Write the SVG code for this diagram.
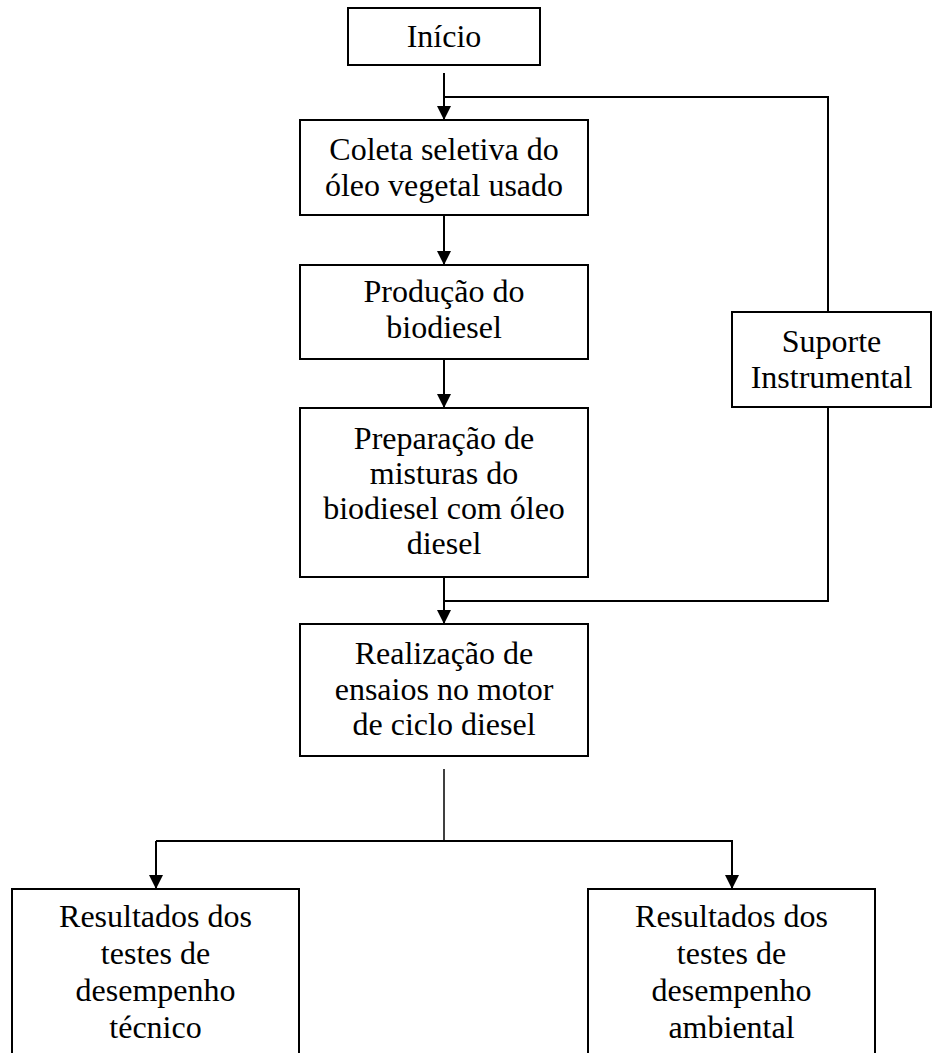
<svg xmlns="http://www.w3.org/2000/svg" width="934" height="1053" viewBox="0 0 934 1053">
  <style>
    .box { fill: #ffffff; stroke: #000000; stroke-width: 2; }
    .lbl { font-family: "Liberation Serif", "Times New Roman", serif; font-size: 32px; fill: #000000; text-anchor: middle; }
    .con { fill: none; stroke: #000000; stroke-width: 2; }
    .thin { fill: none; stroke: #000000; stroke-width: 1.5; }
  </style>
  <defs>
    <marker id="arr" markerUnits="userSpaceOnUse" markerWidth="14" markerHeight="14" refX="14" refY="7" orient="auto" viewBox="0 0 14 14">
      <path d="M0,0 L14,7 L0,14 z" fill="#000000"/>
    </marker>
  </defs>
  <rect width="934" height="1053" fill="#ffffff"/>

  <g id="connectors">
    <line class="con" x1="444" y1="73" x2="444" y2="120" marker-end="url(#arr)"/>
    <polyline class="con" points="828,312 828,97 444,97"/>
    <line class="con" x1="444" y1="215" x2="444" y2="265" marker-end="url(#arr)"/>
    <line class="con" x1="444" y1="359" x2="444" y2="408" marker-end="url(#arr)"/>
    <line class="con" x1="444" y1="577" x2="444" y2="624" marker-end="url(#arr)"/>
    <polyline class="con" points="828,407 828,601 444,601"/>
    <line class="thin" x1="444" y1="769" x2="444" y2="841"/>
    <polyline class="con" points="156,841 732,841 732,889" marker-end="url(#arr)"/>
    <line class="con" x1="156" y1="841" x2="156" y2="889" marker-end="url(#arr)"/>
  </g>

  <g id="inicio">
    <rect class="box" x="348" y="8" width="192" height="57"/>
    <text class="lbl" x="444" y="47">Início</text>
  </g>
  <g id="coleta">
    <rect class="box" x="300" y="120" width="288" height="95"/>
    <text class="lbl" x="444" y="160">Coleta seletiva do</text>
    <text class="lbl" x="444" y="196">óleo vegetal usado</text>
  </g>
  <g id="producao">
    <rect class="box" x="300" y="265" width="288" height="94"/>
    <text class="lbl" x="444" y="302">Produção do</text>
    <text class="lbl" x="444" y="338">biodiesel</text>
  </g>
  <g id="preparacao">
    <rect class="box" x="300" y="408" width="288" height="169"/>
    <text class="lbl" x="444" y="449">Preparação de</text>
    <text class="lbl" x="444" y="484">misturas do</text>
    <text class="lbl" x="444" y="519">biodiesel com óleo</text>
    <text class="lbl" x="444" y="554">diesel</text>
  </g>
  <g id="realizacao">
    <rect class="box" x="300" y="624" width="288" height="132"/>
    <text class="lbl" x="444" y="664">Realização de</text>
    <text class="lbl" x="444" y="700">ensaios no motor</text>
    <text class="lbl" x="444" y="735">de ciclo diesel</text>
  </g>
  <g id="suporte">
    <rect class="box" x="732" y="312" width="199" height="95"/>
    <text class="lbl" x="831.5" y="352">Suporte</text>
    <text class="lbl" x="831.5" y="388">Instrumental</text>
  </g>
  <g id="res-tecnico">
    <rect class="box" x="12" y="889" width="287" height="180"/>
    <text class="lbl" x="155.5" y="927">Resultados dos</text>
    <text class="lbl" x="155.5" y="964">testes de</text>
    <text class="lbl" x="155.5" y="1001">desempenho</text>
    <text class="lbl" x="155.5" y="1038">técnico</text>
  </g>
  <g id="res-ambiental">
    <rect class="box" x="588" y="889" width="287" height="180"/>
    <text class="lbl" x="731.5" y="927">Resultados dos</text>
    <text class="lbl" x="731.5" y="964">testes de</text>
    <text class="lbl" x="731.5" y="1001">desempenho</text>
    <text class="lbl" x="731.5" y="1038">ambiental</text>
  </g>
</svg>
